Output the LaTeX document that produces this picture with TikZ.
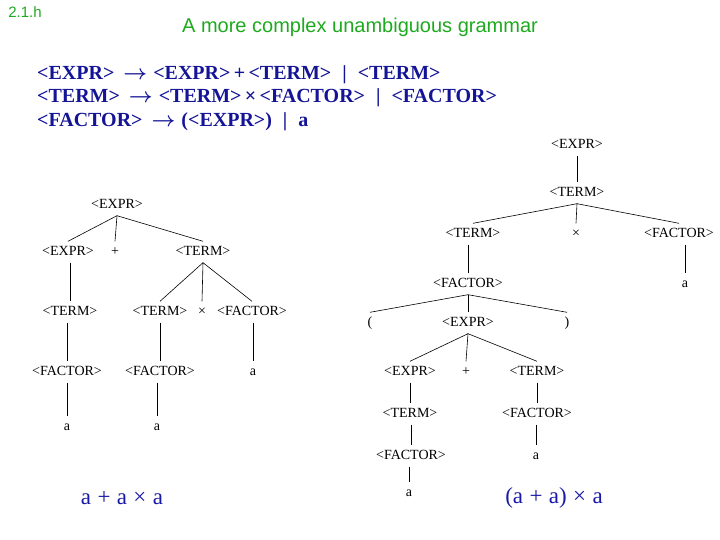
\documentclass[tikz,border=0pt]{standalone}
\usepackage{amsmath}
\usepackage{fontspec}
\setmainfont{Liberation Serif}
\newfontfamily\titlefont{Liberation Sans}
\usepackage{tikz}
\usetikzlibrary{positioning}

\definecolor{slidegreen}{RGB}{30,170,30}
\definecolor{gramblue}{RGB}{20,20,150}
\definecolor{exprblue}{RGB}{25,25,165}

\newcommand{\yields}{\hspace{9pt}$\boldsymbol{\rightarrow}$\hspace{6pt}}
\newcommand{\orbar}{\hspace{11pt}|\hspace{11pt}}

\tikzset{
	tlab/.style={font=\fontsize{14}{16}\selectfont, inner xsep=2pt, inner ysep=5pt,
		text height=9pt, text depth=2pt},
	branch/.style={draw=black, line width=0.6pt},
	rule/.style={anchor=west, text=gramblue, inner sep=0pt,
		font=\fontsize{20}{22}\selectfont\bfseries},
	result/.style={text=exprblue, font=\fontsize{23}{25}\selectfont}
}

\begin{document}
\begin{tikzpicture}[x=1pt,y=-1pt]
	
	\useasboundingbox (0,0) rectangle (720,540);
	
	% Heading
	\node[text=slidegreen, font=\titlefont\fontsize{15}{17}\selectfont] (num) at (25,12) {2.1.h};
	\node[text=slidegreen, font=\titlefont\fontsize{20}{24}\selectfont] (title) at (360,27) {A more complex unambiguous grammar};
	
	% The three rules of the grammar
	\node[rule] (R1) at (37,75) {<EXPR>\yields<EXPR>\,+\,<TERM>\orbar<TERM>};
	\node[rule] (R2) at (37,98) {<TERM>\yields<TERM>\,×\,<FACTOR>\orbar<FACTOR>};
	\node[rule] (R3) at (37,122) {<FACTOR>\yields(<EXPR>)\orbar a};
	
	%%%%%%%%%%%%%%%%%%%%%%%%%%%%%%%%%%%%%%%%%%%%%%%%%%%%%%%%%%%%%%
	% Left parse tree:  a + a x a
	
	\node[tlab] (LE0) at (117,205) {<EXPR>};
	
	\node[tlab] (LE1) at (68,252) {<EXPR>};
	\node[tlab] (LP)  at (115,252) {+};
	\node[tlab] (LT1) at (203,252) {<TERM>};
	
	\node[tlab] (LT2) at (70,312) {<TERM>};
	\node[tlab] (LT3) at (160,312) {<TERM>};
	\node[tlab] (LX)  at (202,312) {×};
	\node[tlab] (LF1) at (252,312) {<FACTOR>};
	
	\node[tlab] (LF2) at (67,372) {<FACTOR>};
	\node[tlab] (LF3) at (160,372) {<FACTOR>};
	\node[tlab] (LA3) at (253,372) {a};
	
	\node[tlab] (LA1) at (67,427) {a};
	\node[tlab] (LA2) at (157,427) {a};
	
	\node[result] (LS) at (122,498) {a\;+\;a\;×\;a};
	
	%%%%%%%%%%%%%%%%%%%%%%%%%%%%%%%%%%%%%%%%%%%%%%%%%%%%%%%%%%%%%%
	% Right parse tree:  (a + a) x a
	
	\node[tlab] (RE0) at (577,145) {<EXPR>};
	\node[tlab] (RT0) at (577,193) {<TERM>};
	
	\node[tlab] (RT1) at (473,234) {<TERM>};
	\node[tlab] (RX)  at (576,234) {×};
	\node[tlab] (RF0) at (679,234) {<FACTOR>};
	
	\node[tlab] (RF1) at (468,284) {<FACTOR>};
	\node[tlab] (RA0) at (685,284) {a};
	
	\node[tlab] (RL)  at (370,323) {(};
	\node[tlab] (RE1) at (468,323) {<EXPR>};
	\node[tlab] (RR)  at (567,323) {)};
	
	\node[tlab] (RE2) at (410,372) {<EXPR>};
	\node[tlab] (RP)  at (466,372) {+};
	\node[tlab] (RT2) at (537,372) {<TERM>};
	
	\node[tlab] (RT3) at (410,414) {<TERM>};
	\node[tlab] (RF2) at (537,414) {<FACTOR>};
	
	\node[tlab] (RF3) at (411,456) {<FACTOR>};
	\node[tlab] (RA2) at (536,456) {a};
	
	\node[tlab] (RA1) at (409,493) {a};
	
	\node[result] (RS) at (554,498) {(a\;+\;a)\;×\;a};
	
	%%%%%%%%%%%%%%%%%%%%%%%%%%%%%%%%%%%%%%%%%%%%%%%%%%%%%%%%%%%%%%
	% Branches: forks to several children, stems to an only child
	
	\foreach \p/\c in {LE0/LE1, LE0/LP, LE0/LT1, LT1/LT3, LT1/LX, LT1/LF1,
			RT0/RT1, RT0/RX, RT0/RF0, RF1/RL, RF1/RE1, RF1/RR,
			RE1/RE2, RE1/RP, RE1/RT2}
		\draw[branch] (\p.south) -- (\c.north);
	
	\foreach \p/\c in {LE1/LT2, LT2/LF2, LT3/LF3, LF1/LA3, LF2/LA1, LF3/LA2,
			RE0/RT0, RT1/RF1, RF0/RA0, RE2/RT3, RT2/RF2, RT3/RF3,
			RF2/RA2, RF3/RA1}
		\draw[branch] (\p.south -| \c.north) -- (\c.north);
	
\end{tikzpicture}
\end{document}
